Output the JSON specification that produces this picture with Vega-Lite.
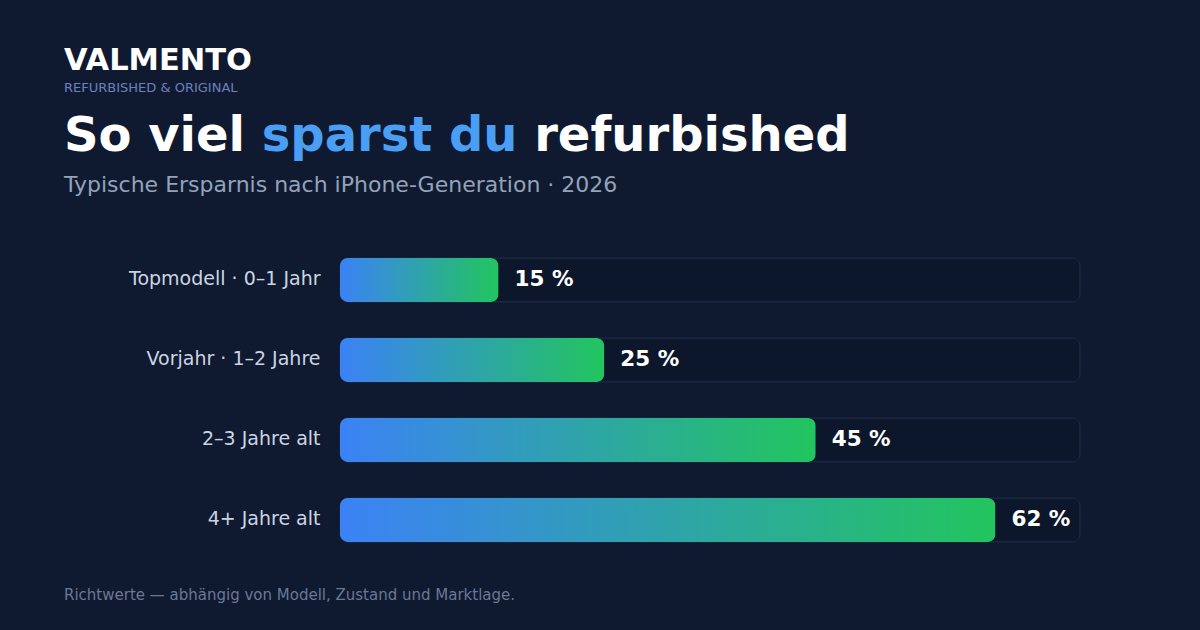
{
  "$schema": "https://vega.github.io/schema/vega-lite/v6.json",
  "width": 1200,
  "height": 630,
  "autosize": {"type": "none"},
  "padding": 0,
  "background": "#0f1a31",
  "config": {
    "font": "DejaVu Sans",
    "view": {"stroke": null}
  },
  "layer": [
    {
      "data": {
        "values": [
          {"gruppe": "Topmodell · 0–1 Jahr", "ersparnis": 15},
          {"gruppe": "Vorjahr · 1–2 Jahre", "ersparnis": 25},
          {"gruppe": "2–3 Jahre alt", "ersparnis": 45},
          {"gruppe": "4+ Jahre alt", "ersparnis": 62}
        ]
      },
      "transform": [
        {"calculate": "datum.ersparnis + ' %'", "as": "beschriftung"},
        {"calculate": "70", "as": "skala"}
      ],
      "encoding": {
        "y": {
          "field": "gruppe",
          "type": "nominal",
          "sort": null,
          "scale": {"range": [240, 560], "paddingInner": 0.45, "paddingOuter": 0.225},
          "axis": {
            "orient": "left",
            "offset": -320,
            "domain": false,
            "ticks": false,
            "grid": false,
            "title": null,
            "labelPadding": 0,
            "labelFont": "DejaVu Sans",
            "labelFontSize": 19,
            "labelColor": "#cbd5e1",
            "labelAlign": "right",
            "labelBaseline": "middle",
            "labelOffset": -1,
            "labelLimit": 400
          }
        }
      },
      "layer": [
        {
          "mark": {"type": "bar", "cornerRadius": 8, "fill": "#0d172b", "stroke": "#1c2a44", "strokeWidth": 1},
          "encoding": {
            "x": {
              "field": "skala",
              "type": "quantitative",
              "scale": {"domain": [-32.162, 81.351], "nice": false, "zero": false},
              "axis": null
            }
          }
        },
        {
          "mark": {
            "type": "bar",
            "cornerRadius": 8,
            "fill": {
              "gradient": "linear",
              "x1": 0, "y1": 0, "x2": 1, "y2": 0,
              "stops": [
                {"offset": 0, "color": "#3b82f6"},
                {"offset": 1, "color": "#22c55e"}
              ]
            }
          },
          "encoding": {
            "x": {"field": "ersparnis", "type": "quantitative"}
          }
        },
        {
          "mark": {
            "type": "text",
            "align": "left",
            "baseline": "middle",
            "dx": 16,
            "fontWeight": "bold",
            "fontSize": 21.5,
            "color": "#ffffff"
          },
          "encoding": {
            "x": {"field": "ersparnis", "type": "quantitative"},
            "text": {"field": "beschriftung", "type": "nominal"}
          }
        }
      ]
    },
    {
      "data": {"values": [{"t": "VALMENTO"}]},
      "mark": {"type": "text", "x": 64, "y": 70, "align": "left", "baseline": "alphabetic", "fontSize": 30.5, "fontWeight": "bold", "color": "#ffffff"},
      "encoding": {"text": {"field": "t", "type": "nominal"}}
    },
    {
      "data": {"values": [{"t": "REFURBISHED & ORIGINAL"}]},
      "mark": {"type": "text", "x": 64, "y": 92, "align": "left", "baseline": "alphabetic", "fontSize": 13, "color": "#6d80bd"},
      "encoding": {"text": {"field": "t", "type": "nominal"}}
    },
    {
      "data": {"values": [{"t": "So viel "}]},
      "mark": {"type": "text", "x": 64, "y": 151, "align": "left", "baseline": "alphabetic", "fontSize": 48, "fontWeight": "bold", "color": "#ffffff"},
      "encoding": {"text": {"field": "t", "type": "nominal"}}
    },
    {
      "data": {"values": [{"t": "sparst du"}]},
      "mark": {"type": "text", "x": 261.7, "y": 151, "align": "left", "baseline": "alphabetic", "fontSize": 48, "fontWeight": "bold", "color": "#4a9ff5"},
      "encoding": {"text": {"field": "t", "type": "nominal"}}
    },
    {
      "data": {"values": [{"t": "refurbished"}]},
      "mark": {"type": "text", "x": 534.2, "y": 151, "align": "left", "baseline": "alphabetic", "fontSize": 48, "fontWeight": "bold", "color": "#ffffff"},
      "encoding": {"text": {"field": "t", "type": "nominal"}}
    },
    {
      "data": {"values": [{"t": "Typische Ersparnis nach iPhone-Generation · 2026"}]},
      "mark": {"type": "text", "x": 64, "y": 192, "align": "left", "baseline": "alphabetic", "fontSize": 22, "color": "#94a3b8"},
      "encoding": {"text": {"field": "t", "type": "nominal"}}
    },
    {
      "data": {"values": [{"t": "Richtwerte — abhängig von Modell, Zustand und Marktlage."}]},
      "mark": {"type": "text", "x": 64, "y": 600, "align": "left", "baseline": "alphabetic", "fontSize": 15, "color": "#6b7891"},
      "encoding": {"text": {"field": "t", "type": "nominal"}}
    }
  ]
}
